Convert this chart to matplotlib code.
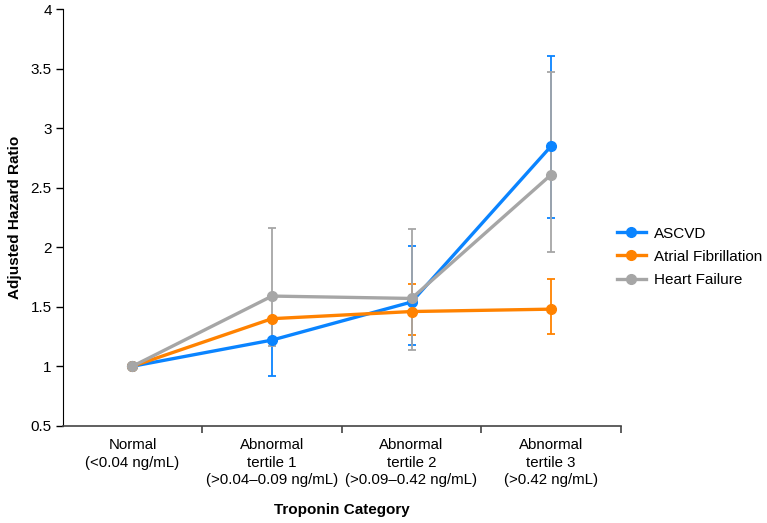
import matplotlib.pyplot as plt
from matplotlib.ticker import FixedLocator

plt.rcParams['font.family'] = ['Liberation Sans', 'DejaVu Sans']

# categories on the x axis
categories = ['Normal\n(<0.04 ng/mL)',
              'Abnormal\ntertile 1\n(>0.04\u20130.09 ng/mL)',
              'Abnormal\ntertile 2\n(>0.09\u20130.42 ng/mL)',
              'Abnormal\ntertile 3\n(>0.42 ng/mL)']

# hazard ratios with lower / upper confidence limits
ascvd = [1.0, 1.22, 1.54, 2.85]
ascvd_lo = [1.0, 0.92, 1.18, 2.25]
ascvd_hi = [1.0, 1.40, 2.01, 3.61]

afib = [1.0, 1.40, 1.46, 1.48]
afib_lo = [1.0, 1.40, 1.26, 1.27]
afib_hi = [1.0, 1.40, 1.69, 1.73]

hf = [1.0, 1.59, 1.57, 2.61]
hf_lo = [1.0, 1.17, 1.14, 1.96]
hf_hi = [1.0, 2.16, 2.15, 3.47]

series = [('ASCVD', ascvd, ascvd_lo, ascvd_hi, '#0A84FF'),
          ('Atrial Fibrillation', afib, afib_lo, afib_hi, '#FF8200'),
          ('Heart Failure', hf, hf_lo, hf_hi, '#A6A6A6')]

fig = plt.figure(figsize=(7.67, 5.23), dpi=100)
ax = fig.add_axes([0.0818, 0.186, 0.7276, 0.796])

x = list(range(len(categories)))

# error bars first, then lines on top
for name, vals, lo, hi, col in series:
    err = [[v - l for v, l in zip(vals, lo)], [h - v for v, h in zip(vals, hi)]]
    ax.errorbar(x, vals, yerr=err, fmt='none', ecolor=col, elinewidth=1.3,
                capsize=2.8, capthick=1.3, zorder=2)

for name, vals, lo, hi, col in series:
    ax.plot(x, vals, color=col, lw=2.4, marker='o', ms=7, label=name, zorder=3)

ax.set_xlim(-0.5, 3.5)
ax.set_ylim(0.5, 4)
ax.set_yticks([0.5, 1, 1.5, 2, 2.5, 3, 3.5, 4])
ax.set_yticklabels(['0.5', '1', '1.5', '2', '2.5', '3', '3.5', '4'])
ax.set_xticks(x)
ax.set_xticklabels(categories, fontsize=10.8, linespacing=1.3)
ax.xaxis.set_minor_locator(FixedLocator([0.5, 1.5, 2.5, 3.5]))
ax.tick_params(axis='x', which='major', length=0, pad=9)
ax.tick_params(axis='x', which='minor', length=5, direction='out', width=1.2,
               color='#444444')
ax.tick_params(axis='y', length=5, width=1, labelsize=11, pad=3)

for s in ['top', 'right']:
    ax.spines[s].set_visible(False)
ax.spines['bottom'].set_color('#444444')
ax.spines['bottom'].set_linewidth(1.2)

ax.set_ylabel('Adjusted Hazard Ratio', fontsize=11, fontweight='bold', labelpad=6)
ax.set_xlabel('Troponin Category', fontsize=11, fontweight='bold', labelpad=12)

ax.legend(loc='center left', bbox_to_anchor=(0.968, 0.406), frameon=False,
          fontsize=11, handlelength=1.9, handletextpad=0.55, labelspacing=0.6)

fig.savefig('out.png', dpi=100)
